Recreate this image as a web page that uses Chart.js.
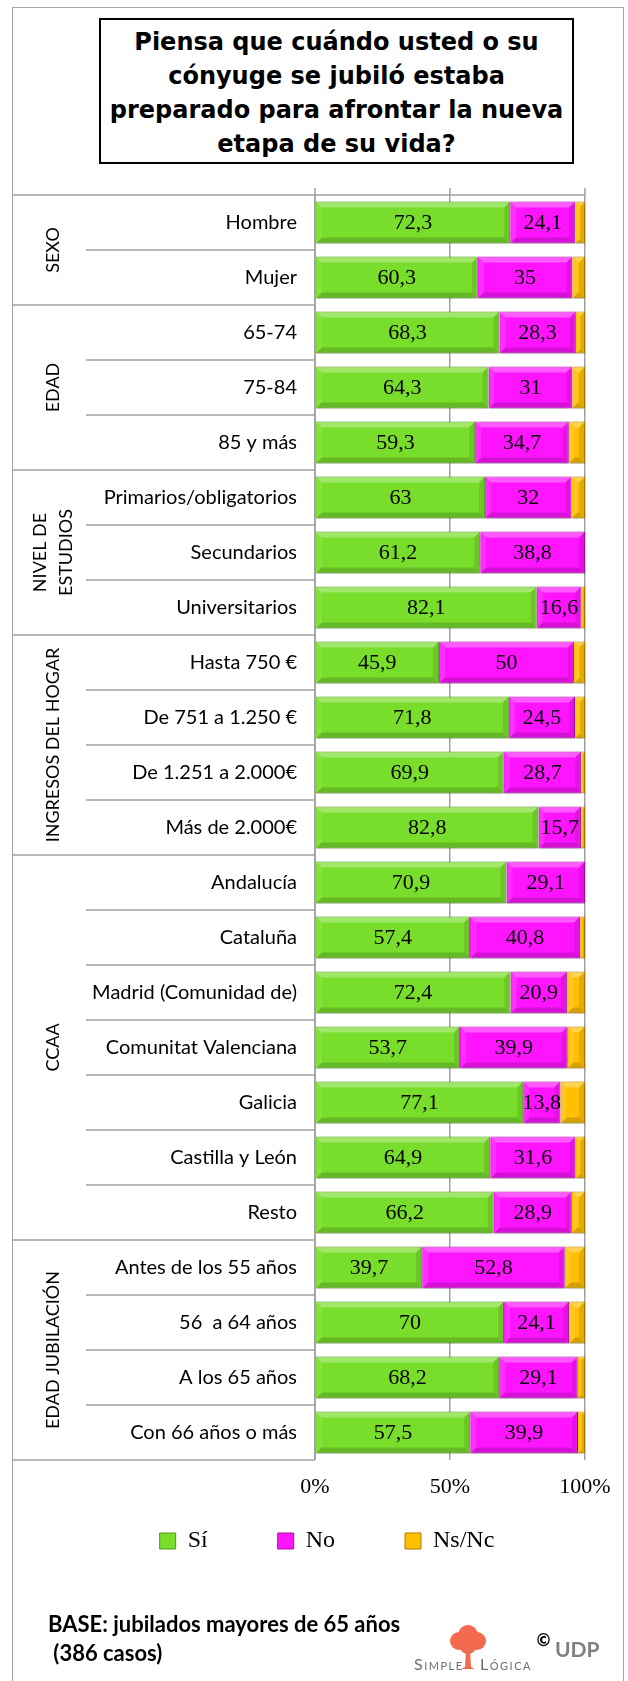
<!DOCTYPE html>
<html lang="es">
<head>
<meta charset="utf-8">
<title>Preparado para la jubilación</title>
<script src="https://cdn.jsdelivr.net/npm/chart.js@4.4.1/dist/chart.umd.min.js"></script>
<style>
  html, body { margin: 0; padding: 0; background: #fff; overflow: hidden; }
  #page { position: relative; width: 628px; height: 1681px; overflow: hidden; }
  #frame { position: absolute; left: 12px; top: 7px; width: 610px; height: 1720px; border: 1.5px solid #a6a6a6; }
  #chart { position: absolute; left: 0; top: 0; }
  #title {
    position: absolute; left: 99px; top: 18px; width: 471px; height: 137px; padding-top: 5px;
    border: 2px solid #000; background: #fff;
    font: bold 24px/34px "DejaVu Sans", sans-serif; text-align: center; color: #000;
  }
  #base { position: absolute; left: 48px; top: 1609px; font: bold 22px/29px Lato, sans-serif; color: #000; }
  #logo { position: absolute; left: 412px; top: 1620px; width: 200px; height: 55px; }
  #logo svg { position: absolute; left: 36px; top: 3px; }
  .sl { position: absolute; top: 34px; font: 16px Lato, sans-serif; font-variant: small-caps; letter-spacing: 1.5px; color: #6e6e6e; }
  #copy { position: absolute; left: 123px; top: 10px; font: bold 17px "DejaVu Sans", sans-serif; color: #000; }
  #udp { position: absolute; left: 143px; top: 16px; font: bold 21px Lato, sans-serif; color: #808080; }
</style>
</head>
<body>
<div id="page">
  <div id="frame"></div>
  <canvas id="chart" width="628" height="1681"></canvas>
  <div id="title">Piensa que cuándo usted o su<br>cónyuge se jubiló estaba<br>preparado para afrontar la nueva<br>etapa de su vida?</div>
  <div id="base">BASE: jubilados mayores de 65 años<br>&nbsp;(386 casos)</div>
  <div id="logo">
    <span class="sl" style="left:2px">Simple</span>
    <svg width="40" height="47" viewBox="0 0 40 47">
      <g fill="#f26a4f">
        <circle cx="20" cy="12" r="10"/>
        <circle cx="11" cy="18" r="9"/>
        <circle cx="29" cy="18" r="9"/>
        <circle cx="20" cy="22" r="9"/>
        <path d="M18 26 L22 26 L23 44 L27 46 L13 46 L17 44 Z"/>
      </g>
    </svg>
    <span class="sl" style="left:68px">Lógica</span>
    <span id="copy">©</span>
    <span id="udp">UDP</span>
  </div>
</div>
<script>
const categories = ['Hombre', 'Mujer', '65-74', '75-84', '85 y más',
  'Primarios/obligatorios', 'Secundarios', 'Universitarios',
  'Hasta 750 €', 'De 751 a 1.250 €', 'De 1.251 a 2.000€', 'Más de 2.000€',
  'Andalucía', 'Cataluña', 'Madrid (Comunidad de)', 'Comunitat Valenciana', 'Galicia', 'Castilla y León', 'Resto',
  'Antes de los 55 años', '56  a 64 años', 'A los 65 años', 'Con 66 años o más'];

const groupLabels = [['SEXO'], ['EDAD'], ['NIVEL DE', 'ESTUDIOS'], ['INGRESOS DEL HOGAR'], ['CCAA'], ['EDAD JUBILACIÓN']];
const groupSizes = [2, 3, 3, 4, 7, 4];

const siValues   = [72.3, 60.3, 68.3, 64.3, 59.3, 63, 61.2, 82.1, 45.9, 71.8, 69.9, 82.8, 70.9, 57.4, 72.4, 53.7, 77.1, 64.9, 66.2, 39.7, 70, 68.2, 57.5];
const noValues   = [24.1, 35, 28.3, 31, 34.7, 32, 38.8, 16.6, 50, 24.5, 28.7, 15.7, 29.1, 40.8, 20.9, 39.9, 13.8, 31.6, 28.9, 52.8, 24.1, 29.1, 39.9];
const nsncValues = [3.6, 4.7, 3.4, 4.7, 6, 5, 0, 1.3, 4.1, 3.7, 1.4, 1.5, 0, 1.8, 6.7, 6.4, 9.1, 3.5, 4.9, 7.5, 5.9, 2.7, 2.6];

const xTickValues = [0, 50, 100];

const LINE = '#a0a0a0';

// table on the left: row separators, group column, group names
const tablePlugin = {
  id: 'table',
  afterLayout(chart) {
    // legend sits closer to the axis than its item padding would allow
    const lg = chart.legend;
    lg.top -= 41;
    lg.bottom -= 41;
  },
  beforeDatasetsDraw(chart) {
    const {ctx, chartArea: a, scales: {x, y}} = chart;
    const edge = i => i === 0 ? a.top : i === categories.length ? a.bottom
      : (y.getPixelForValue(i - 1) + y.getPixelForValue(i)) / 2;
    const starts = [0];
    groupSizes.forEach(n => starts.push(starts[starts.length - 1] + n));

    ctx.save();
    ctx.strokeStyle = LINE;
    ctx.lineWidth = 1.5;
    ctx.beginPath();
    for (let i = 0; i <= categories.length; i++) {
      const yy = edge(i);
      ctx.moveTo(starts.includes(i) ? 12 : 86, yy);
      ctx.lineTo(i === 0 ? a.right : a.left, yy);
    }
    xTickValues.forEach(v => {
      const xx = x.getPixelForValue(v);
      ctx.moveTo(xx, a.top - 7);
      ctx.lineTo(xx, a.top);
    });
    ctx.moveTo(a.left, a.top);
    ctx.lineTo(a.left, a.bottom);
    ctx.stroke();

    ctx.fillStyle = '#000';
    ctx.font = '18px Lato';
    ctx.textAlign = 'center';
    ctx.textBaseline = 'middle';
    groupLabels.forEach((lines, g) => {
      const cy = (edge(starts[g]) + edge(starts[g + 1])) / 2;
      const cx = 53 - (lines.length - 1) * 13;
      lines.forEach((t, k) => {
        ctx.save();
        ctx.translate(cx + k * 26, cy);
        ctx.rotate(-Math.PI / 2);
        ctx.fillText(t, 0, 0);
        ctx.restore();
      });
    });
    ctx.restore();

    ctx.save();
    ctx.shadowColor = 'rgba(0,0,0,0.22)';
    ctx.shadowBlur = 3;
    ctx.shadowOffsetY = 3;
  },
  afterDatasetsDraw(chart) {
    const ctx = chart.ctx;
    ctx.restore();
    // bevel + value labels
    chart.data.datasets.forEach((ds, di) => {
      chart.getDatasetMeta(di).data.forEach((el, i) => {
        const l = Math.min(el.base, el.x), r = Math.max(el.base, el.x);
        const t = el.y - el.height / 2, b = el.y + el.height / 2;
        const d = Math.min(6, (r - l) / 2);
        if (r - l > 0.5) {
          const poly = (pts, c) => {
            ctx.beginPath();
            pts.forEach((p, k) => k ? ctx.lineTo(p[0], p[1]) : ctx.moveTo(p[0], p[1]));
            ctx.closePath();
            ctx.fillStyle = c;
            ctx.fill();
          };
          poly([[l + 1, t + 1], [r - 1, t + 1], [r - d, t + d], [l + d, t + d]], 'rgba(255,255,255,0.30)');
          poly([[l + 1, t + 1], [l + d, t + d], [l + d, b - d], [l + 1, b - 1]], 'rgba(255,255,255,0.12)');
          poly([[l + 1, b - 1], [l + d, b - d], [r - d, b - d], [r - 1, b - 1]], 'rgba(0,0,0,0.16)');
          poly([[r - 1, t + 1], [r - d, t + d], [r - d, b - d], [r - 1, b - 1]], 'rgba(0,0,0,0.10)');
        }
        if (di < 2) {
          ctx.fillStyle = '#000';
          ctx.font = '22px "Liberation Serif"';
          ctx.textAlign = 'center';
          ctx.textBaseline = 'middle';
          ctx.fillText(String(ds.data[i]).replace('.', ','), (l + r) / 2, el.y + 1);
        }
      });
    });
  }
};

new Chart(document.getElementById('chart'), {
  type: 'bar',
  data: {
    labels: categories,
    datasets: [
      { label: 'Sí', data: siValues, backgroundColor: '#78dd2b', borderColor: '#4d9a14' },
      { label: 'No', data: noValues, backgroundColor: '#ff14ff', borderColor: '#a313a3' },
      { label: 'Ns/Nc', data: nsncValues, backgroundColor: '#ffc000', borderColor: '#b07d00' }
    ]
  },
  options: {
    indexAxis: 'y',
    responsive: false,
    animation: false,
    datasets: { bar: { borderWidth: 1, barPercentage: 0.764, categoryPercentage: 1 } },
    layout: { padding: { left: 69, right: 43, top: 195, bottom: 77 } },
    scales: {
      x: {
        stacked: true, min: 0, max: 100,
        afterBuildTicks: s => { s.ticks = xTickValues.map(v => ({ value: v })); },
        afterFit: s => { s.height = 40; },
        ticks: { callback: v => v + '%', color: '#000', font: { family: 'Liberation Serif', size: 22 }, padding: 14, maxRotation: 0 },
        grid: { color: LINE, lineWidth: 1.5, drawTicks: false },
        border: { display: false }
      },
      y: {
        stacked: true,
        afterFit: s => { s.width = 246; },
        ticks: { color: '#000', font: { family: 'Lato', size: 20 }, padding: 18, autoSkip: false },
        grid: { display: false, drawTicks: false },
        border: { display: false }
      }
    },
    plugins: {
      legend: {
        position: 'bottom',
        labels: { color: '#000', font: { family: 'Liberation Serif', size: 24 }, boxWidth: 16, boxHeight: 16, padding: 70 }
      },
      tooltip: { enabled: false }
    }
  },
  plugins: [tablePlugin]
});
</script>
</body>
</html>
